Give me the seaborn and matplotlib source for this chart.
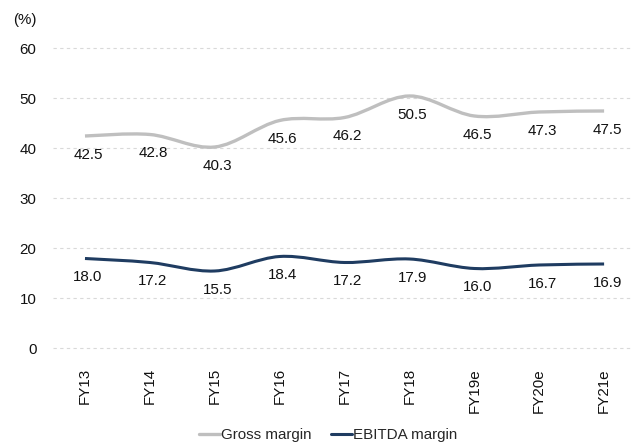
import numpy as np
import pandas as pd
import matplotlib
matplotlib.use("Agg")
import matplotlib.pyplot as plt
from matplotlib.path import Path
from matplotlib.patches import PathPatch
from matplotlib.lines import Line2D
import seaborn as sns

# Margin history and estimates (%)
years = ["FY13", "FY14", "FY15", "FY16", "FY17", "FY18", "FY19e", "FY20e", "FY21e"]
gross_margin = [42.5, 42.8, 40.3, 45.6, 46.2, 50.5, 46.5, 47.3, 47.5]
ebitda_margin = [18.0, 17.2, 15.5, 18.4, 17.2, 17.9, 16.0, 16.7, 16.9]
series_names = ["Gross margin", "EBITDA margin"]
y_ticks = [0, 10, 20, 30, 40, 50, 60]

colors = {"Gross margin": "#BFBFBF", "EBITDA margin": "#1F3C61"}
widths = {"Gross margin": 2.4, "EBITDA margin": 2.2}

df = pd.DataFrame({
    "year": years * 2,
    "margin": gross_margin + ebitda_margin,
    "series": [series_names[0]] * len(years) + [series_names[1]] * len(years),
})

sns.set_theme(style="white")
plt.rcParams["font.family"] = ["Liberation Sans", "DejaVu Sans"]
FS = 10.9


def smooth_path(xy):
    """Catmull-Rom style cubic Bezier path through the given vertices."""
    pts = np.asarray(xy, dtype=float)
    n = len(pts)
    verts = [pts[0]]
    codes = [Path.MOVETO]
    for i in range(n - 1):
        p0 = pts[i - 1] if i > 0 else pts[i]
        p1 = pts[i]
        p2 = pts[i + 1]
        p3 = pts[i + 2] if i + 2 < n else pts[i + 1]
        c1 = p1 + (p2 - p0) / 6.0
        c2 = p2 - (p3 - p1) / 6.0
        verts += [c1, c2, p2]
        codes += [Path.CURVE4] * 3
    return Path(verts, codes)


fig = plt.figure(figsize=(6.33, 4.45), dpi=100)
ax = fig.add_axes([0.083, 0.2135, 0.9226, 0.6809])

for name in series_names:
    sub = df[df["series"] == name]
    sns.lineplot(data=sub, x="year", y="margin", ax=ax, sort=False,
                 errorbar=None, legend=False, color=colors[name],
                 linewidth=widths[name])
    line = ax.lines[-1]
    xy = line.get_xydata()
    line.remove()
    ax.add_patch(PathPatch(smooth_path(xy), fill=False,
                           edgecolor=colors[name], linewidth=widths[name],
                           capstyle="butt", joinstyle="round", zorder=3))
    for x, y in xy:
        ax.annotate(f"{y:.1f}", (x, y), xytext=(3, -19),
                    textcoords="offset pixels", ha="center", va="center",
                    fontsize=FS, color="#111111", zorder=4)

ax.set_xlim(-0.5, len(years) - 0.5)
ax.set_ylim(-0.3, 60.3)
ax.set_yticks(y_ticks)
ax.set_xticks(range(len(years)))
ax.set_xticklabels(years, rotation=90, fontsize=FS)
ax.set_yticklabels([str(t) for t in y_ticks], fontsize=FS)
ax.set_xlabel("")
ax.set_ylabel("")
for s in ax.spines.values():
    s.set_visible(False)
ax.tick_params(axis="both", length=0, colors="#111111")
ax.tick_params(axis="y", pad=11.5)
ax.tick_params(axis="x", pad=13)
ax.yaxis.grid(True, linestyle=(0, (3, 3)), color="#D9D9D9", linewidth=0.8)
ax.xaxis.grid(False)
ax.set_axisbelow(True)

fig.text(0.039, 0.955, "(%)", ha="center", va="center", fontsize=FS,
         color="#111111")

handles = [Line2D([], [], color=colors[n], linewidth=widths[n]) for n in series_names]
fig.legend(handles, series_names, loc="center", bbox_to_anchor=(0.518, 0.0225),
           ncol=2, frameon=False, fontsize=FS, handlelength=1.4,
           handletextpad=0.05, columnspacing=1.3, borderpad=0)

fig.savefig("out.png", dpi=100)
